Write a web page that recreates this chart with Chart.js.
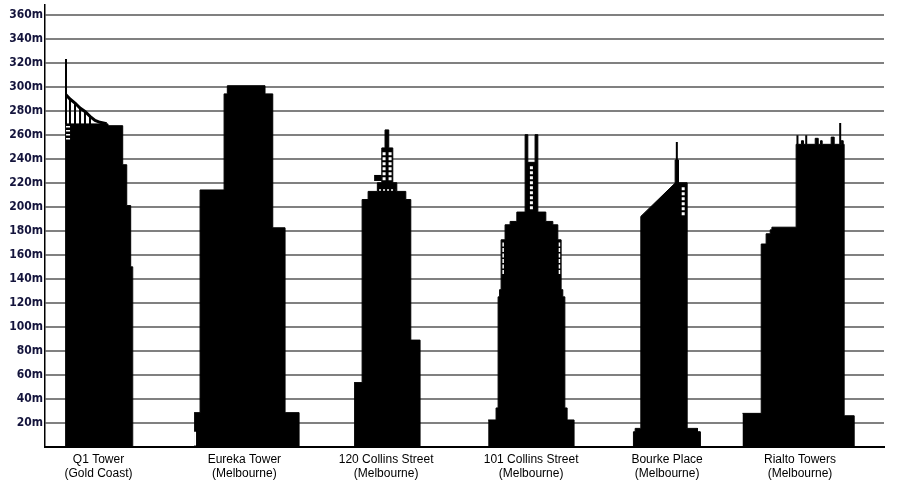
<!DOCTYPE html>
<html>
<head>
<meta charset="utf-8">
<title>Skyscraper heights</title>
<script src="https://cdn.jsdelivr.net/npm/chart.js@4.4.1/dist/chart.umd.min.js"></script>
<style>
  html, body { margin: 0; padding: 0; background: #fff; }
  #wrap { width: 923px; height: 493px; }
</style>
</head>
<body>
<div id="wrap"><canvas id="chart"></canvas></div>
<script>
// Heights in metres. Horizontal positions are metres from the y axis, same scale as the heights.
const buildingNames = ['Q1 Tower', 'Eureka Tower', '120 Collins Street', '101 Collins Street', 'Bourke Place', 'Rialto Towers'];
const buildingCities = ['(Gold Coast)', '(Melbourne)', '(Melbourne)', '(Melbourne)', '(Melbourne)', '(Melbourne)'];
const labelPositions = [44.6, 166.1, 284.2, 405, 518.3, 629];
const heightTicks = [0, 20, 40, 60, 80, 100, 120, 140, 160, 180, 200, 220, 240, 260, 280, 300, 320, 340, 360];

// stepped silhouettes: edges has one more entry than heights
const q1Edges = [16.7, 52.5, 64.75, 68.1, 71.4, 73.1];
const q1Heights = [269, 267.5, 235, 201, 150];

const eurekaEdges = [124.2, 129.2, 149.2, 151.9, 183.3, 189.75, 200, 211.7];
const eurekaHeights = [28.6, 214, 294, 300.8, 294, 182.5, 28.6];

const collins120Edges = [257.5, 264.2, 269.2, 276.9, 280.6, 283.3, 286.4, 289.75, 293.1, 300.6, 304.75, 312.5];
const collins120Heights = [53.6, 206, 212.8, 220, 249, 264, 249, 220, 212.8, 206, 89];

const collins101Edges = [369.2, 375.8, 377.5, 378.75, 380, 383.3, 387.5, 393.1, 400, 402.25, 408.3, 410.6, 417.25, 423.1, 427.25, 430, 431.4, 433.1, 435, 440.8];
const collins101Heights = [22.5, 32.5, 125, 131, 172.5, 185, 187.8, 195.6, 260, 237, 260, 195.6, 187.8, 185, 172.5, 131, 125, 32.5, 22.5];

const rialtoEdges = [581.1, 596.7, 600.8, 604.2, 605.6, 625.8, 630.25, 631.9, 641.7, 644.2, 646.1, 647.5, 655, 657.5, 663.3, 665, 665.8, 674.2];
const rialtoHeights = [28, 169, 177.5, 180.8, 183, 252, 255, 252, 257, 252, 255, 252, 258, 252, 255, 252, 26];

// Bourke Place has a sloping roof, so it is given as an outline
const bourkeX = [490.25, 490.25, 491.7, 491.7, 496.4, 496.4, 525, 525, 527.75, 527.75, 534.75, 534.75, 543.6, 543.6, 545.8, 545.8];
const bourkeY = [0, 12.7, 12.7, 15.5, 15.5, 192, 219.7, 239, 239, 220, 220, 15.5, 15.5, 12.7, 12.7, 0];

// Q1 crown truss
const crownX = [17.5, 20.8, 25, 29.2, 33.3, 37.5, 41.7, 45.8, 51.4];
const crownY = [293.3, 289.7, 286.4, 282.2, 279.4, 275.3, 271.9, 270.3, 269.2];
const strutX = [20.8, 25, 29.2, 33.3, 37.5];
const strutTop = [289.7, 286.4, 282.2, 279.4, 275.3];

// spires and antennas
const spireX = [17.5, 526.4, 626.9, 634.2, 662.5];
const spireBase = [269, 239, 252, 252, 252];
const spireTop = [323, 254, 259.5, 259.5, 269.7];

// white lattice details
const latticeX = [405.25, 531.7, 282.5, 287.5];
const latticeBase = [198, 193, 222, 222];
const latticeTop = [234, 218, 247, 247];
const columnX = [381.7, 428.6];
const columnBase = [144, 144];
const columnTop = [171, 171];

function profile(edges, heights) {
    const pts = heights.map((h, i) => ({ x: edges[i], y: h }));
    pts.push({ x: edges[edges.length - 1], y: 0 });
    return pts;
}

function outline(xs, ys) {
    return xs.map((x, i) => ({ x: x, y: ys[i] }));
}

function verticals(xs, bases, tops) {
    const pts = [];
    xs.forEach((x, i) => {
        pts.push({ x: x, y: bases[i] }, { x: x, y: tops[i] }, { x: x, y: null });
    });
    return pts;
}

function building(label, data, stepped) {
    return {
        label: label, data: data, stepped: stepped ? 'before' : false,
        fill: 'origin', backgroundColor: '#000', borderColor: '#000',
        borderWidth: 1, pointRadius: 0, order: 3
    };
}

function detail(label, data, color, width, dash, order) {
    return {
        label: label, data: data, fill: false, borderColor: color,
        borderWidth: width, borderDash: dash || [], borderCapStyle: 'butt',
        pointRadius: 0, order: order
    };
}

const datasets = [
    building('Q1 Tower', profile(q1Edges, q1Heights), true),
    building('Eureka Tower', profile(eurekaEdges, eurekaHeights), true),
    building('120 Collins Street', profile(collins120Edges, collins120Heights), true),
    building('101 Collins Street', profile(collins101Edges, collins101Heights), true),
    building('Bourke Place', outline(bourkeX, bourkeY), false),
    building('Rialto Towers', profile(rialtoEdges, rialtoHeights), true),
    detail('Spires', verticals(spireX, spireBase, spireTop), '#000', 2, null, 2),
    detail('Crown', outline(crownX, crownY), '#000', 3, null, 2),
    detail('Struts', verticals(strutX, strutTop.map(() => 269), strutTop), '#000', 2, null, 2),
    detail('Ledge', outline([274.2, 280.6], [224, 224]), '#000', 6, null, 2),
    detail('Ladder', verticals([19.2], [256], [268]), '#fff', 4, [1.5, 2.5], 1),
    detail('Lattice', verticals(latticeX, latticeBase, latticeTop), '#fff', 3, [3, 2], 1),
    detail('Columns', verticals(columnX, columnBase, columnTop), '#fff', 1.5, [4, 1.5], 1),
    detail('Floor', outline([278.3, 291.7], [214, 214]), '#fff', 1.5, [2, 2], 1),
    detail('Notch', verticals([125], [1.2], [12.7]), '#fff', 2, null, 1)
];

new Chart(document.getElementById('chart'), {
    type: 'line',
    data: { datasets: datasets },
    options: {
        responsive: true,
        maintainAspectRatio: false,
        animation: false,
        events: [],
        layout: { padding: { top: 5, right: 39, left: 0, bottom: 0 } },
        plugins: { legend: { display: false }, tooltip: { enabled: false } },
        scales: {
            x: {
                type: 'linear', min: 0, max: 699,
                grid: { display: false },
                border: { color: '#000', width: 2 },
                afterBuildTicks: scale => { scale.ticks = labelPositions.map(v => ({ value: v })); },
                afterFit: scale => {
                    scale.height = 46;
                    scale.paddingLeft = 0;
                    scale.paddingRight = 0;
                },
                ticks: {
                    autoSkip: false, maxRotation: 0, padding: -3, color: '#000',
                    font: { family: '"Liberation Sans", Arial, sans-serif', size: 12 },
                    callback: (value, index) => [buildingNames[index], buildingCities[index]]
                }
            },
            y: {
                type: 'linear', min: 0, max: 368,
                grid: {
                    drawTicks: false, lineWidth: 2,
                    color: ctx => ctx.tick && ctx.tick.value === 0 ? '#000' : '#808080'
                },
                border: { color: '#000', width: 1.5 },
                afterBuildTicks: scale => { scale.ticks = heightTicks.map(v => ({ value: v })); },
                afterFit: scale => {
                    scale.width = 45;
                    scale.paddingTop = 0;
                    scale.paddingBottom = 0;
                },
                ticks: {
                    padding: 2, color: '#14143c',
                    font: { family: '"DejaVu Sans Condensed", "DejaVu Sans", sans-serif', size: 12, weight: 'bold' },
                    callback: v => v === 0 ? '' : v + 'm'
                }
            }
        }
    }
});
</script>
</body>
</html>
